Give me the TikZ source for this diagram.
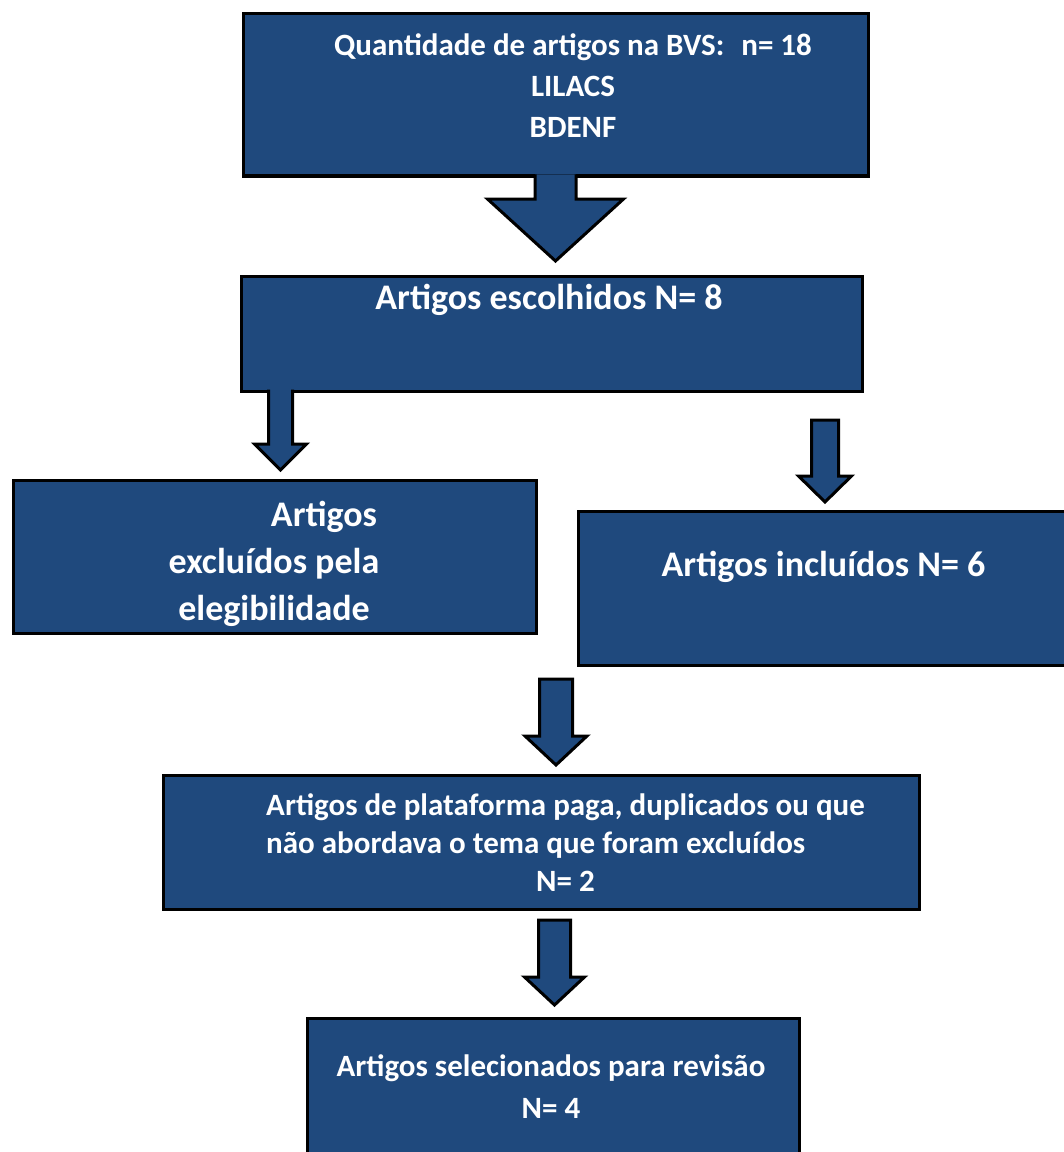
\documentclass[tikz,border=0pt]{standalone}
\usepackage{fontspec}
\setmainfont{Carlito}
\usetikzlibrary{calc}

\def\px{0.75pt} % one pixel of the reference
% block arrow: [closing], from, tip, shaft half width, head half width, head length
\newcommand\blockarrow[6][]{%
  \path[blockarr] let \p1=(#2), \p2=(#3) in
  (\x2-#4*\px,\y1) -- (\x2-#4*\px,\y2+#6*\px) -- (\x2-#5*\px,\y2+#6*\px) -- (\p2)
  -- (\x2+#5*\px,\y2+#6*\px) -- (\x2+#4*\px,\y2+#6*\px) -- (\x2+#4*\px,\y1) #1;
}

\begin{document}
\begin{tikzpicture}[x=0.75pt,y=-0.75pt]
\definecolor{boxblue}{RGB}{31,73,125}
\tikzstyle{blockarr}=[fill=boxblue,draw=black,line width=2.25pt,line join=miter]
\tikzset{
box/.style={fill=boxblue,draw=black,line width=2.25pt,inner sep=0pt},
txt/.style={text=white,inner sep=0pt,align=center},
}
\useasboundingbox (0,0) rectangle (1063,1152);

	% BOXES
	\node[box,minimum width=625*\px,minimum height=162*\px] (bvs)         at (555.5,95)    {};
	\node[box,minimum width=621*\px,minimum height=115*\px] (escolhidos)  at (551.5,333.5) {};
	\node[box,minimum width=523*\px,minimum height=153*\px] (excluidos)   at (274.5,556.5) {};
	\node[box,minimum width=497*\px,minimum height=154*\px] (incluidos)   at (827,588.5)   {};
	\node[box,minimum width=756*\px,minimum height=134*\px] (plataforma)  at (541.5,842.5) {};
	\node[box,minimum width=492*\px,minimum height=147*\px] (selecionados) at (553.5,1092) {};
	
	% ARROWS
	\coordinate (t1) at (555.5,261);   % tip below BVS
	\coordinate (t2) at (280.5,470);   % tip to excluded
	\coordinate (s3) at (824.5,420);   % top of arrow to included
	\coordinate (t3) at (825,502);     % tip to included
	\coordinate (s4) at (555.5,679);   % top of arrow to excluded (platform)
	\coordinate (t4) at (556,765);     % tip to platform box
	\coordinate (s5) at (555,920);     % top of last arrow
	\coordinate (t5) at (554.5,1005);  % tip to selected
	\blockarrow{$(bvs.south)+(0,-3)$}{t1}{20.5}{68}{62}
	\blockarrow{$(escolhidos.south)+(0,-3)$}{t2}{12}{26}{26}
	\blockarrow[-- cycle]{s3}{t3}{13.5}{26.5}{26}
	\blockarrow[-- cycle]{s4}{t4}{16.5}{31}{29}
	\blockarrow[-- cycle]{s5}{t5}{16}{30}{28}
	
	% TEXT
	\node[txt,font=\bfseries\fontsize{23.25}{30.75}\selectfont] (bvstxt) at (573,86)
	{Quantidade de artigos na BVS:\hspace{0.55em}n= 18\\LILACS\\BDENF};
	\node[txt,font=\bfseries\fontsize{27}{34}\selectfont] (escolhidostxt) at (549,300)
	{Artigos escolhidos N= 8};
	\node[txt,font=\bfseries\fontsize{27}{35}\selectfont] (excluidostxt) at (274,564)
	{\hspace*{75pt}Artigos\\excluídos pela\\elegibilidade};
	\node[txt,font=\bfseries\fontsize{27}{34}\selectfont] (incluidostxt) at (823.5,567)
	{Artigos incluídos N= 6};
	\node[txt,font=\bfseries\fontsize{23.25}{28.5}\selectfont] (plataformatxt) at (565.5,846)
	{\begin{tabular}{@{}l@{}}
	Artigos de plataforma paga, duplicados ou que\\
	não abordava o tema que foram excluídos\\
	\multicolumn{1}{@{}c@{}}{N= 2}
	\end{tabular}};
	\node[txt,font=\bfseries\fontsize{23.25}{31.5}\selectfont] (selecionadostxt) at (551,1087)
	{Artigos selecionados para revisão\\N= 4};
	
\end{tikzpicture}
\end{document}
